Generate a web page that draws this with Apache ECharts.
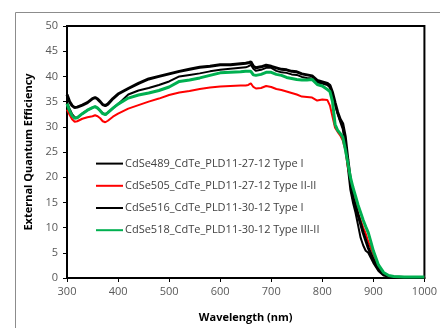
<!DOCTYPE html>
<html>
<head>
<meta charset="utf-8">
<script src="https://cdn.jsdelivr.net/npm/echarts@6/dist/echarts.min.js"></script>
<style>
  html, body { margin: 0; padding: 0; background: #fff; }
  #chart { width: 440px; height: 328px; }
</style>
</head>
<body>
<div id="chart"></div>
<script>
// wavelength grid (nm)
const wavelengths = [300,305,310,315,320,330,340,350,355,360,365,370,375,380,390,400,420,440,460,480,500,520,540,560,580,600,620,640,650,655,660,665,670,680,690,700,710,720,730,740,750,760,770,780,790,800,810,815,820,825,830,835,840,845,850,855,860,865,870,875,880,885,890,895,900,910,920,930,940,960,980,1000];

const seriesNames = [
  "CdSe489_CdTe_PLD11-27-12 Type I",
  "CdSe505_CdTe_PLD11-27-12 Type II-II",
  "CdSe516_CdTe_PLD11-30-12 Type I",
  "CdSe518_CdTe_PLD11-30-12 Type III-II"
];

const eqe489 = [34.8,33.6,32.5,31.9,31.8,32.6,33.3,33.8,34.0,33.7,33.2,32.7,32.5,32.8,33.7,34.5,36.4,37.2,37.7,38.3,39.0,40.0,40.3,40.6,41.0,41.3,41.5,41.7,41.8,42.0,42.3,41.5,41.1,41.3,41.7,41.7,41.1,40.8,40.7,40.4,40.3,39.9,39.7,39.6,38.8,38.6,38.3,37.8,36.3,34.5,32.6,31.0,29.6,26.5,22.0,17.5,15.0,13.0,10.5,8.0,6.5,5.4,5.0,4.0,3.0,1.4,0.5,0.3,0.2,0.1,0.1,0.1];
const eqe505 = [33.4,32.4,31.5,31.0,31.1,31.6,31.9,32.1,32.3,32.1,31.7,31.1,30.9,31.2,32.0,32.6,33.6,34.3,35.0,35.6,36.3,36.8,37.1,37.5,37.8,38.0,38.1,38.2,38.2,38.3,38.6,37.9,37.6,37.7,38.1,37.9,37.5,37.3,37.0,36.7,36.4,36.0,35.9,35.8,35.2,35.4,35.3,34.2,32.0,29.8,29.0,28.3,27.3,25.5,22.0,19.8,17.5,15.8,12.8,11.5,10.0,8.8,7.2,6.0,4.8,2.1,1.0,0.4,0.2,0.1,0.1,0.1];
const eqe516 = [36.4,35.0,34.2,33.8,33.9,34.3,34.8,35.6,35.8,35.5,35.0,34.4,34.2,34.5,35.6,36.5,37.6,38.6,39.5,40.0,40.5,41.0,41.4,41.8,42.0,42.3,42.3,42.5,42.6,42.7,42.9,42.0,41.7,41.9,42.2,42.0,41.7,41.4,41.3,41.0,40.9,40.5,40.3,40.1,39.2,38.9,38.6,38.2,36.8,34.8,32.9,31.5,30.6,28.0,23.5,19.5,16.0,14.3,12.5,10.8,9.0,7.5,6.0,4.8,3.6,1.8,0.8,0.3,0.2,0.1,0.1,0.1];
const eqe518 = [34.6,33.2,32.2,31.7,31.8,32.6,33.3,33.8,34.0,33.7,33.2,32.6,32.4,32.8,33.7,34.5,35.7,36.3,36.7,37.2,37.9,39.0,39.3,39.7,40.2,40.7,40.8,40.9,41.0,41.0,41.0,40.3,40.2,40.4,40.8,40.8,40.4,40.2,39.8,39.6,39.4,39.3,39.3,39.4,38.4,38.1,37.4,37.0,35.0,30.5,29.3,28.7,28.0,25.6,22.8,20.0,18.0,16.3,14.5,13.0,11.5,10.2,9.0,7.2,5.4,2.6,1.1,0.5,0.3,0.2,0.2,0.2];

const seriesData = [eqe489, eqe505, eqe516, eqe518];
const seriesColors = ["#000000", "#ff0000", "#000000", "#00b050"];
const seriesWidths = [2, 2, 3, 3];

const font = "'Open Sans', sans-serif";
const chart = echarts.init(document.getElementById("chart"), null, { renderer: "canvas" });

chart.setOption({
  animation: false,
  backgroundColor: "#fff",
  graphic: [{
    type: "rect", left: 13, top: 10, z: -1,
    shape: { width: 500, height: 400 },
    style: { fill: "none", stroke: "#8c8c8c", lineWidth: 1 }
  }],
  grid: { left: 67, right: 12, top: 26, bottom: 41, show: true, borderColor: "#000", borderWidth: 2, backgroundColor: "transparent" },
  legend: {
    orient: "vertical", left: 90, top: 153, itemWidth: 27, itemHeight: 14, itemGap: 11,
    itemStyle: { opacity: 0 },
    textStyle: { fontFamily: font, fontSize: 11, color: "#404040", padding: [0, 0, 0, -3] },
    data: seriesNames
  },
  xAxis: {
    type: "value", min: 300, max: 1000, interval: 100,
    name: "Wavelength (nm)", nameLocation: "middle", nameGap: 34,
    nameTextStyle: { fontFamily: font, fontSize: 11, fontWeight: "bold", color: "#000" },
    axisLine: { lineStyle: { color: "#000", width: 2 } },
    axisTick: { show: true, inside: false, length: 4, lineStyle: { color: "#000", width: 1 } },
    axisLabel: { fontFamily: font, fontSize: 11, color: "#595959", margin: 8, formatter: v => String(v) },
    splitLine: { show: false }
  },
  yAxis: {
    type: "value", min: 0, max: 50, interval: 5,
    name: "External Quantum Efficiency", nameLocation: "middle", nameGap: 32,
    nameTextStyle: { fontFamily: font, fontSize: 11, fontWeight: "bold", color: "#000" },
    axisLine: { show: true, lineStyle: { color: "#000", width: 2 } },
    axisTick: { show: true, inside: false, length: 4, lineStyle: { color: "#000", width: 1 } },
    axisLabel: { fontFamily: font, fontSize: 11, color: "#595959", margin: 9 },
    splitLine: { show: false }
  },
  series: seriesNames.map((name, i) => ({
    name, type: "line", symbol: "none", smooth: false,
    data: wavelengths.map((w, j) => [w, seriesData[i][j]]),
    lineStyle: { color: seriesColors[i], width: seriesWidths[i] },
    itemStyle: { color: seriesColors[i] }
  }))
});
</script>
</body>
</html>
